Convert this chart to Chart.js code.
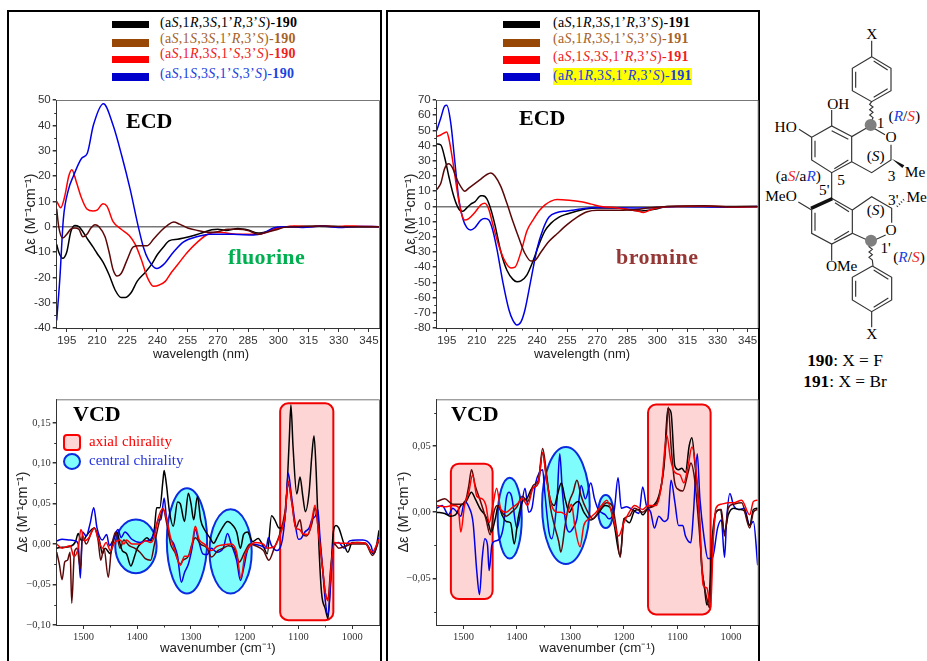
<!DOCTYPE html>
<html>
<head>
<meta charset="utf-8">
<title>ECD and VCD spectra of 190 and 191</title>
<script src="https://cdn.jsdelivr.net/npm/chart.js@4"></script>
<style>
html, body { margin: 0; padding: 0; background: #fff; }
#page { position: relative; width: 927px; height: 661px; overflow: hidden; font-family: "Liberation Serif", serif; }
#page canvas { position: absolute; }
.frame { position: absolute; top: 10px; height: 670px; border: 2px solid #000; box-sizing: border-box; }
.t { position: absolute; white-space: nowrap; line-height: 1; transform: translateY(-50%); }
.leg { font-size: 14px; letter-spacing: 0.3px; }
.big { font-size: 22px; font-weight: bold; }
.xt { position: absolute; white-space: nowrap; line-height: 1; transform: translate(-50%, -50%); font: 13px "Liberation Sans", sans-serif; color: #222; }
.sw { position: absolute; }
</style>
</head>
<body>
<div id="page">
  <div class="frame" style="left:7px;width:375px"></div>
  <div class="frame" style="left:386px;width:374px"></div>

  <div class="sw" style="left:112px;top:21px;width:37px;height:7px;background:#000"></div>
  <div class="sw" style="left:112px;top:39px;width:37px;height:8px;background:#974706"></div>
  <div class="sw" style="left:112px;top:56px;width:37px;height:7px;background:#f00"></div>
  <div class="sw" style="left:112px;top:73px;width:37px;height:8px;background:#0000cc"></div>
  <div class="t leg" style="left:160px;top:23px;color:#000">(a<i>S</i>,1<i>R</i>,3<i>S</i>,1’<i>R</i>,3’<i>S</i>)-<b>190</b></div>
  <div class="t leg" style="left:160px;top:39px;color:#a5622a">(a<i>S</i>,1<i>S</i>,3<i>S</i>,1’<i>R</i>,3’<i>S</i>)-<b>190</b></div>
  <div class="t leg" style="left:160px;top:54px;color:#f02020">(a<i>S</i>,1<i>R</i>,3<i>S</i>,1’<i>S</i>,3’<i>S</i>)-<b>190</b></div>
  <div class="t leg" style="left:160px;top:74px;color:#2040e0">(a<i>S</i>,1<i>S</i>,3<i>S</i>,1’<i>S</i>,3’<i>S</i>)-<b>190</b></div>

  <div class="sw" style="left:503px;top:21px;width:37px;height:7px;background:#000"></div>
  <div class="sw" style="left:503px;top:39px;width:37px;height:8px;background:#974706"></div>
  <div class="sw" style="left:503px;top:56px;width:37px;height:8px;background:#f00"></div>
  <div class="sw" style="left:503px;top:73px;width:37px;height:8px;background:#0000cc"></div>
  <div class="sw" style="left:553px;top:68px;width:139px;height:17px;background:#ffff00"></div>
  <div class="t leg" style="left:553px;top:23px;color:#000">(a<i>S</i>,1<i>R</i>,3<i>S</i>,1’<i>R</i>,3’<i>S</i>)-<b>191</b></div>
  <div class="t leg" style="left:553px;top:39px;color:#a5622a">(a<i>S</i>,1<i>R</i>,3<i>S</i>,1’<i>S</i>,3’<i>S</i>)-<b>191</b></div>
  <div class="t leg" style="left:553px;top:57px;color:#f02020">(a<i>S</i>,1<i>S</i>,3<i>S</i>,1’<i>R</i>,3’<i>S</i>)-<b>191</b></div>
  <div class="t leg" style="left:553px;top:76px;color:#2040e0">(a<i>R</i>,1<i>R</i>,3<i>S</i>,1’<i>R</i>,3’<i>S</i>)-<b>191</b></div>

  <canvas id="ecdF" style="left:22px;top:90px"></canvas>
  <canvas id="ecdBr" style="left:402px;top:90px"></canvas>
  <canvas id="vcdF" style="left:14px;top:389px"></canvas>
  <canvas id="vcdBr" style="left:395px;top:389px"></canvas>

  <div class="xt" style="left:201px;top:353px">wavelength (nm)</div>
  <div class="xt" style="left:582px;top:353px">wavelength (nm)</div>

  <div class="t big" style="left:126px;top:121px">ECD</div>
  <div class="t big" style="left:519px;top:118px">ECD</div>
  <div class="t big" style="left:228px;top:257px;color:#00b050;letter-spacing:0.3px">fluorine</div>
  <div class="t big" style="left:616px;top:257px;color:#953735;letter-spacing:0.5px">bromine</div>
  <div class="t big" style="left:73px;top:414px">VCD</div>
  <div class="t big" style="left:451px;top:414px">VCD</div>

  <div class="sw" style="left:63px;top:434px;width:18px;height:17px;box-sizing:border-box;background:#fdd5d5;border:2px solid #f00;border-radius:4px"></div>
  <div class="sw" style="left:63px;top:453px;width:18px;height:17px;box-sizing:border-box;background:#7ffcfc;border:2px solid #0a2be0;border-radius:50%"></div>
  <div class="t" style="left:89px;top:441px;font-size:15px;color:#f00">axial chirality</div>
  <div class="t" style="left:89px;top:460px;font-size:15px;color:#2030e0">central chirality</div>

  <svg style="position:absolute;left:765px;top:20px" width="162" height="380" viewBox="0 0 486 1140" font-family="Liberation Serif" font-size="46" text-anchor="middle">
    <g fill="none" stroke="#333" stroke-width="3.5">
      <path d="M320 62V110L378 145V212L320 245L262 212V145L320 110"/>
      <path d="M272 155V203M326 123L368 150M368 206L326 232"/>
      <path d="M320 245l-6 8 10 8-10 8 10 8-10 8 10 8-8 18"/>
      <path d="M315 318L360 344M378 374V420L320 458L260 425V350L315 318"/>
      <path d="M262 350L200 318L140 352V420L200 458L260 425"/>
      <path d="M200 332L250 358M150 362V412M208 446L250 420"/>
      <path d="M200 318V270M140 352L102 328M200 458V535"/>
      <path d="M200 535L262 570V640L200 672L140 640V570"/>
      <path d="M210 548L252 575M252 634L208 660M150 578V632"/>
      <path d="M140 570L100 546M200 672V722"/>
      <path d="M262 570L320 530L380 565V608M362 645L318 665L262 640"/>
      <path d="M318 672l-6 8 10 8-10 8 10 8-10 8 10 8 2 18"/>
      <path d="M322 738L380 772V840L320 875L262 840V772L322 738"/>
      <path d="M272 782V830M326 750L370 778M370 834L326 862"/>
      <path d="M320 875V922"/>
      <path d="M396 560L420 535" stroke-dasharray="3 6" stroke-width="6"/>
    </g>
    <path d="M380 416L418 436L412 444Z" fill="#111"/>
    <path d="M200 531L204 541L140 570L136 560Z" fill="#111"/>
    <circle cx="317" cy="315" r="18" fill="#7f7f7f"/>
    <circle cx="318" cy="662" r="18" fill="#7f7f7f"/>
    <text x="320" y="58">X</text>
    <text x="220" y="266">OH</text>
    <text x="62" y="336">HO</text>
    <text x="347" y="323">1</text>
    <text x="378" y="367">O</text>
    <text x="418" y="304">(<tspan fill="#2040e0" font-style="italic">R</tspan>/<tspan fill="#f02020" font-style="italic">S</tspan>)</text>
    <text x="332" y="424">(<tspan font-style="italic">S</tspan>)</text>
    <text x="450" y="472">Me</text>
    <text x="380" y="482">3</text>
    <text x="228" y="494">5</text>
    <text x="100" y="482">(a<tspan fill="#f02020" font-style="italic">S</tspan>/a<tspan fill="#2040e0" font-style="italic">R</tspan>)</text>
    <text x="178" y="526">5'</text>
    <text x="48" y="544">MeO</text>
    <text x="385" y="554">3'</text>
    <text x="455" y="545">Me</text>
    <text x="332" y="584">(<tspan font-style="italic">S</tspan>)</text>
    <text x="378" y="644">O</text>
    <text x="362" y="699">1'</text>
    <text x="432" y="726">(<tspan fill="#2040e0" font-style="italic">R</tspan>/<tspan fill="#f02020" font-style="italic">S</tspan>)</text>
    <text x="230" y="752">OMe</text>
    <text x="320" y="958">X</text>
    <text x="240" y="1038" font-size="52"><tspan font-weight="bold">190</tspan>: X = F</text>
    <text x="240" y="1102" font-size="52"><tspan font-weight="bold">191</tspan>: X = Br</text>
  </svg>
</div>

<script>
// ECD, X = F : [wavelength, delta epsilon]
const ecdFBlack = [[190,-7],[191,-10],[193,-12.5],[195,-10],[197,-2],[199,0.5],[201,0],[203,-2],[205,-4.5],[208,-8],[210,-10.5],[213,-14],[216,-19],[219,-25],[222,-28],[224,-28],[227,-26],[230,-21.5],[234,-18],[237,-15],[240,-11],[243,-8],[246,-5.5],[250,-5],[253,-4.5],[258,-3.5],[262,-2.5],[267,-1.2],[270,-1],[274,-1.5],[280,-0.7],[285,-1.3],[290,-2.5],[295,-1.8],[300,-0.5],[305,0],[320,0.2],[335,0],[350,0]];
const ecdFBlue = [[190,-37],[191.6,-20],[193.3,3],[195.8,14.5],[198.3,20],[202.4,27],[205.2,29],[208.2,40],[213.2,48.5],[218,40],[222.3,28],[226.4,15],[230.5,0],[233,-8],[235.5,-13],[239.7,-16.5],[243,-15],[248,-10],[253,-6],[259.5,-4],[266,-3],[277.7,-3],[287.7,-3.3],[292.6,-2.5],[297.6,-0.5],[302.6,0],[312,-0.3],[322,0.3],[330,-0.3],[340,0.1],[350,0]];
const ecdFRed = [[190,10],[192,7.5],[194,12],[196,20],[197.5,22.5],[200,17],[202,12],[205,7],[208,6.2],[210,6.5],[213,9],[215,8],[218,2],[222,-1],[226,-3.5],[229,-7],[232,-13],[235,-20],[238,-23.5],[241,-23],[244,-21.5],[247,-18],[250,-15],[255,-10],[260,-6],[265,-3],[270,-2.2],[280,-3],[290,-3],[295,-2],[300,-0.5],[305,0.1],[308,0.3],[315,0],[322,0.4],[328,-0.1],[333,0.3],[340,0.2],[350,0]];
const ecdFDark = [[190,7],[191,0],[193,-4.5],[195,-3],[197,-1],[199,-0.5],[201,-1],[203,-4],[205,-3],[207,-0.5],[209,0.8],[211,0],[214,-4],[216,-10],[218,-17],[220,-19.5],[222,-18.5],[225,-13],[228,-8],[231,-7.5],[235,-7.5],[238,-5],[242,-1.5],[245,0.5],[248,1.8],[251,1],[255,-0.5],[260,-1.5],[265,-2.2],[270,-2],[275,-1],[280,-1],[285,-1.5],[290,-3],[295,-2],[300,-1],[303,-0.2],[310,0],[322,0.3],[332,0],[350,0]];

// ECD, X = Br
const ecdBrBlack = [[190,41],[192,40.5],[194,32],[196,20],[198,9],[200,1],[202,-3],[203,-3.2],[205,-1],[207,1.5],[209,3],[212,7],[213,7],[215,5],[217,-2],[219,-12],[222,-30],[225,-42],[228,-48],[230,-49.5],[232,-49],[235,-45],[238,-36],[241,-25],[244,-16],[247,-11],[251,-7],[255,-5],[260,-3],[265,-1.5],[270,-1],[280,-1],[285,-2],[292,-3],[300,-1.5],[305,0],[320,0],[350,0]];
const ecdBrBlue = [[190,50],[192,58],[194,66],[195,66.5],[197,55],[199,30],[201,5],[203,-8],[205,-14],[207,-15.5],[209,-14],[212,-9],[214,-8],[216,-9],[218,-16],[220,-28],[223,-50],[226,-68],[228,-75],[230,-78],[232,-76],[234,-68],[237,-48],[240,-28],[243,-15],[246,-7],[250,-4],[255,-3],[260,-2],[270,-0.8],[290,-1],[300,-0.8],[310,0],[335,-0.5],[350,0]];
const ecdBrRed = [[190,46],[192,47],[195,49],[196,45],[198,30],[200,12],[202,-3],[204,-9],[206,-8],[209,-4],[212,1],[214,2],[216,-2],[218,-12],[221,-26],[224,-36],[227,-40.5],[229,-40],[232,-30],[235,-16],[238,-9],[241,-3],[244,1],[247,3.5],[250,4.5],[256,4],[262,3],[267,1.5],[272,0],[280,-1],[290,-3],[293,-4],[297,-2],[302,-0.5],[310,0],[323,0.3],[340,-0.4],[350,-0.2]];
const ecdBrDark = [[190,11],[192,15],[194,25],[196,28],[198,25],[200,18],[202,13],[204,10],[206,12],[209,15],[212,18],[215,21],[217,22],[219,20],[222,13],[225,2],[228,-10],[231,-21],[234,-31],[237,-36],[239,-35.5],[242,-30],[246,-23],[250,-18],[255,-12],[260,-7],[265,-3.5],[270,-2.5],[280,-2.5],[290,-2],[295,-1],[305,0],[323,0.4],[335,-0.2],[350,0]];

// VCD, X = F : [wavenumber, delta epsilon]
const vcdFBlack = [[1550,-0.005],[1540,-0.004],[1525,-0.003],[1515,0.003],[1510,0.013],[1505,0.005],[1500,0.005],[1495,0.01],[1480,0.02],[1470,0.003],[1465,-0.012],[1460,-0.005],[1450,-0.012],[1445,0.002],[1438,0.015],[1432,0],[1428,-0.008],[1420,-0.012],[1412,-0.027],[1405,-0.015],[1400,-0.005],[1390,0.003],[1382,0.008],[1375,0.004],[1368,0.02],[1364,0.045],[1358,0.045],[1352,0.08],[1350,0.091],[1346,0.075],[1340,0.04],[1333,0.022],[1325,0.052],[1320,0.05],[1312,0.028],[1305,0.063],[1300,0.05],[1295,0.03],[1288,0.059],[1282,0.03],[1275,0.018],[1265,0.008],[1258,0.001],[1250,0.01],[1240,0.022],[1232,0.028],[1222,0.023],[1215,0.015],[1208,-0.005],[1202,0.012],[1195,0.015],[1185,0.003],[1175,0.007],[1165,-0.003],[1158,-0.012],[1150,0.035],[1144,0.03],[1136,0.02],[1128,0.02],[1122,0.06],[1117,0.13],[1114,0.172],[1110,0.12],[1103,0.062],[1097,0.083],[1092,0.06],[1087,0.04],[1080,0.065],[1075,0.11],[1071,0.134],[1067,0.09],[1062,0],[1057,-0.06],[1050,-0.08],[1045,-0.092],[1040,-0.04],[1035,0.015],[1030,0.023],[1025,0.02],[1015,0],[1008,-0.01],[1000,0.002],[990,0.002],[975,0.001],[960,-0.012],[955,-0.003],[950,0.017]];
const vcdFBlue = [[1550,0.004],[1540,0.006],[1525,0.005],[1515,0.004],[1510,0],[1506,-0.042],[1502,0.015],[1495,0.01],[1488,0.025],[1481,0.045],[1475,0.02],[1465,0.005],[1457,0.012],[1452,-0.002],[1445,0.005],[1436,0.018],[1430,0.008],[1423,0.015],[1410,0.006],[1395,0.002],[1385,0.004],[1375,0.006],[1368,0.015],[1360,0.03],[1356,0.03],[1350,0.057],[1346,0.035],[1340,0.01],[1332,0],[1325,-0.015],[1318,-0.047],[1312,-0.035],[1305,-0.025],[1298,-0.005],[1292,0.018],[1286,0.005],[1278,-0.012],[1270,-0.013],[1262,-0.005],[1252,-0.01],[1240,-0.005],[1232,0.013],[1225,0],[1215,-0.02],[1208,-0.045],[1202,-0.03],[1195,-0.008],[1185,0],[1170,-0.002],[1160,-0.005],[1156,0.008],[1150,-0.002],[1140,-0.008],[1130,0.005],[1124,0.04],[1119,0.088],[1113,0.06],[1107,0.03],[1100,0.006],[1095,0.007],[1088,0.015],[1080,0.02],[1075,0.03],[1068,0.035],[1064,0.043],[1060,0.01],[1055,-0.03],[1050,-0.07],[1045,-0.088],[1040,-0.05],[1035,0],[1025,0.002],[1015,-0.005],[1005,0.004],[990,0.005],[980,0.005],[965,-0.002],[960,-0.012],[950,0.008]];
const vcdFRed = [[1550,0],[1540,-0.005],[1525,-0.002],[1518,-0.015],[1510,-0.005],[1505,0.018],[1498,0.004],[1490,0.008],[1480,0.02],[1472,0.005],[1465,-0.005],[1458,0.002],[1450,-0.008],[1442,0.002],[1432,0.005],[1425,0],[1420,0.005],[1410,0],[1395,0],[1385,0.004],[1375,0.002],[1368,0.01],[1362,0.03],[1352,0.044],[1345,0.03],[1338,0.008],[1330,-0.008],[1320,-0.026],[1312,-0.015],[1305,-0.015],[1298,0],[1292,0.022],[1285,0.006],[1275,0],[1262,-0.008],[1252,-0.003],[1240,-0.001],[1225,0],[1215,-0.01],[1207,-0.042],[1200,-0.015],[1190,-0.002],[1180,0.002],[1165,0],[1158,-0.005],[1145,-0.003],[1135,0.01],[1125,0.035],[1119,0.078],[1112,0.05],[1105,0.02],[1098,0.018],[1092,0.013],[1082,0.012],[1075,0.03],[1069,0.048],[1062,0.01],[1055,-0.03],[1050,-0.06],[1045,-0.07],[1038,-0.02],[1033,0.002],[1020,0.001],[1005,0.001],[990,0.002],[975,0.001],[963,-0.01],[950,0.006]];
const vcdFDark = [[1550,-0.01],[1545,-0.025],[1540,-0.044],[1535,-0.022],[1530,-0.02],[1525,-0.01],[1522,-0.073],[1517,-0.01],[1512,-0.005],[1506,-0.03],[1502,0.01],[1495,0],[1485,0.015],[1480,0.02],[1473,0.005],[1468,-0.02],[1462,-0.005],[1454,-0.041],[1448,-0.005],[1440,0.015],[1432,-0.005],[1425,0.005],[1415,-0.002],[1405,-0.005],[1395,-0.01],[1385,-0.018],[1375,-0.02],[1368,0],[1360,0.025],[1352,0.043],[1345,0.025],[1338,0],[1330,-0.01],[1320,-0.025],[1315,-0.02],[1305,-0.015],[1298,0],[1292,0.008],[1282,0],[1270,-0.005],[1262,-0.016],[1250,-0.008],[1240,-0.005],[1230,-0.002],[1220,-0.005],[1210,-0.022],[1200,-0.01],[1190,0],[1180,-0.002],[1165,-0.008],[1155,-0.02],[1145,-0.005],[1135,0.012],[1125,0.04],[1119,0.075],[1112,0.05],[1105,0.02],[1097,0.03],[1092,0.012],[1085,0.01],[1075,0.025],[1069,0.045],[1062,0.012],[1055,-0.03],[1050,-0.06],[1045,-0.068],[1040,-0.03],[1033,0],[1025,-0.005],[1010,-0.002],[1000,0],[985,0],[975,0],[962,-0.014],[950,0.005]];

// VCD, X = Br
const vcdBrBlack = [[1550,0],[1535,-0.001],[1525,-0.003],[1515,-0.002],[1505,0.005],[1495,0.008],[1485,0.015],[1478,0.01],[1468,0.002],[1460,-0.002],[1455,-0.006],[1448,-0.015],[1440,-0.004],[1435,0.005],[1428,-0.002],[1420,-0.007],[1412,-0.008],[1405,-0.024],[1398,-0.005],[1390,0.008],[1382,0.01],[1372,0.018],[1360,0.022],[1352,0.045],[1346,0.03],[1338,0.01],[1330,0.005],[1325,0.012],[1317,0.022],[1310,0.01],[1302,0],[1295,0.005],[1285,0.008],[1275,0],[1262,-0.006],[1250,-0.002],[1235,0.005],[1225,0.003],[1218,-0.01],[1207,-0.033],[1200,-0.005],[1190,-0.008],[1180,0.001],[1172,0.002],[1165,-0.002],[1155,0.003],[1145,0.005],[1135,0.012],[1125,0.035],[1118,0.078],[1112,0.075],[1105,0.035],[1098,0.032],[1092,0.033],[1085,0.03],[1078,0.05],[1073,0.056],[1067,0.035],[1060,0.005],[1055,-0.04],[1050,-0.055],[1045,-0.07],[1040,-0.06],[1035,-0.02],[1028,0],[1020,0.002],[1012,-0.015],[1005,-0.002],[995,0.003],[985,0.002],[975,0.001],[965,-0.01],[958,0.002],[950,0.003]];
const vcdBrBlue = [[1550,0.003],[1540,0.005],[1528,-0.002],[1520,0.003],[1512,0],[1505,-0.003],[1498,0.008],[1490,0.004],[1482,-0.008],[1475,-0.045],[1470,-0.062],[1465,-0.035],[1460,-0.02],[1455,-0.025],[1452,-0.044],[1447,-0.025],[1442,-0.022],[1432,-0.02],[1425,-0.01],[1420,0.01],[1415,0.015],[1410,0.012],[1400,-0.012],[1393,0],[1385,0.018],[1378,0],[1372,0.003],[1365,0.022],[1352,0.032],[1348,0.015],[1340,-0.015],[1335,-0.02],[1325,0.01],[1320,0.044],[1315,0.015],[1308,-0.01],[1302,-0.015],[1295,-0.012],[1288,-0.005],[1280,0.02],[1272,0.01],[1262,0.022],[1255,0.01],[1248,0.002],[1235,-0.002],[1228,-0.005],[1218,0.002],[1211,0.026],[1205,0.003],[1195,0.004],[1185,0.002],[1172,-0.001],[1165,0.019],[1158,0.005],[1150,0],[1143,-0.012],[1135,-0.003],[1125,-0.007],[1118,-0.005],[1112,0.024],[1105,0.008],[1098,-0.01],[1090,-0.01],[1085,-0.018],[1075,-0.023],[1070,0],[1063,0.044],[1058,0.01],[1050,-0.02],[1043,-0.035],[1035,-0.035],[1025,-0.012],[1018,-0.006],[1012,-0.034],[1008,-0.005],[1002,0.014],[995,0.005],[985,0.002],[975,0.003],[965,-0.01],[958,-0.007],[950,-0.04]];
const vcdBrRed = [[1550,0.005],[1535,0.004],[1520,0.005],[1510,0.004],[1505,-0.015],[1498,0.005],[1490,0.015],[1483,0.028],[1475,0.012],[1465,0.01],[1458,0.005],[1452,-0.008],[1445,0.005],[1438,0.018],[1430,0.002],[1420,0],[1410,0.003],[1400,0.006],[1390,0.01],[1380,0.005],[1370,0.018],[1360,0.022],[1352,0.045],[1345,0.025],[1335,0.005],[1325,0],[1318,0],[1308,-0.002],[1298,0.006],[1292,-0.01],[1282,-0.026],[1275,-0.01],[1265,-0.005],[1252,0],[1240,0.006],[1232,0.009],[1220,-0.005],[1210,-0.018],[1200,-0.008],[1190,0],[1180,0.005],[1165,0.002],[1155,0.005],[1140,0.005],[1130,0.02],[1120,0.058],[1113,0.04],[1105,0.03],[1095,0.028],[1088,0.022],[1080,0.035],[1073,0.049],[1065,0.03],[1058,-0.01],[1052,-0.055],[1045,-0.057],[1038,-0.072],[1033,-0.02],[1028,0.003],[1018,0.006],[1005,0.007],[995,0.007],[980,0.009],[965,-0.002],[958,0.008],[950,0.009]];
const vcdBrDark = [[1550,0.008],[1535,0.01],[1520,0.006],[1505,0.006],[1495,0.01],[1490,0.02],[1485,0.032],[1478,0.02],[1468,0.008],[1458,-0.005],[1450,-0.017],[1443,0],[1437,0.005],[1430,0.001],[1420,-0.003],[1410,0],[1400,0.004],[1390,0.012],[1380,0.008],[1370,0.02],[1360,0.024],[1352,0.048],[1345,0.03],[1338,0.005],[1330,-0.01],[1322,-0.022],[1318,-0.03],[1310,-0.01],[1302,0.008],[1295,0.015],[1288,0.024],[1280,0.012],[1270,0.002],[1258,-0.005],[1245,0.002],[1232,0.007],[1222,0.005],[1215,-0.01],[1207,-0.034],[1200,-0.005],[1190,-0.003],[1180,0.003],[1165,0],[1155,0.003],[1140,0.006],[1130,0.02],[1122,0.05],[1117,0.079],[1112,0.05],[1105,0.022],[1098,0.017],[1090,0.016],[1080,0.03],[1075,0.037],[1068,0.025],[1060,-0.01],[1052,-0.05],[1045,-0.065],[1040,-0.072],[1035,-0.03],[1028,0],[1018,0.002],[1012,-0.018],[1005,0.003],[995,0.006],[980,0.007],[965,-0.012],[958,0],[950,0.002]];

// tick values
const ecdXTicks = [195,210,225,240,255,270,285,300,315,330,345];
const ecdXMinor = [202.5,217.5,232.5,247.5,262.5,277.5,292.5,307.5,322.5,337.5];
const ecdFYTicks = [-40,-30,-20,-10,0,10,20,30,40,50];
const ecdFYMinor = [-35,-25,-15,-5,5,15,25,35,45];
const ecdBrYTicks = [-80,-70,-60,-50,-40,-30,-20,-10,0,10,20,30,40,50,60,70];
const ecdBrYMinor = [-75,-65,-55,-45,-35,-25,-15,-5,5,15,25,35,45,55,65];
const vcdXTicks = [1500,1400,1300,1200,1100,1000];
const vcdXMinor = [1450,1350,1250,1150,1050];
const vcdFYTicks = [-0.10,-0.05,0,0.05,0.10,0.15];
const vcdFYLabels = ['−0,10','−0,05','0,00','0,05','0,10','0,15'];
const vcdFYMinor = [-0.075,-0.025,0.025,0.075,0.125];
const vcdBrYTicks = [-0.05,0,0.05];
const vcdBrYLabels = ['−0,05','0,00','0,05'];
const vcdBrYMinor = [-0.075,-0.025,0.025,0.075];

// highlighted regions in data units: kind, wavenumber from/to, value from/to
const vcdFRegions = [['ellipse',1441,1364,0.0305,-0.036],['ellipse',1345,1270,0.069,-0.061],['ellipse',1265.5,1187,0.043,-0.061],['rect',1134,1035,0.174,-0.094]];
const vcdBrRegions = [['rect',1523.5,1445.5,0.0365,-0.0655],['ellipse',1436,1391,0.026,-0.035],['ellipse',1353,1264,0.049,-0.039],['ellipse',1248,1220,0.013,-0.012],['rect',1155,1038,0.081,-0.077]];

const BLACK = '#000', DARK = '#5c0808', RED = '#ff0000', BLUE = '#0000e6';

// shaded ellipses/boxes under the curves, plot border and small ticks on top
const panelExtras = {
    id: 'panelExtras',
    beforeDatasetsDraw(chart, args, opts) {
        const ctx = chart.ctx, sx = chart.scales.x, sy = chart.scales.y;
        (opts.regions || []).forEach(r => {
            const x0 = sx.getPixelForValue(r[1]), x1 = sx.getPixelForValue(r[2]);
            const y0 = sy.getPixelForValue(r[3]), y1 = sy.getPixelForValue(r[4]);
            ctx.save();
            ctx.beginPath();
            if (r[0] === 'ellipse') {
                ctx.ellipse((x0 + x1) / 2, (y0 + y1) / 2, (x1 - x0) / 2, (y1 - y0) / 2, 0, 0, Math.PI * 2);
                ctx.fillStyle = '#7ffcfc';
                ctx.strokeStyle = '#0a2be0';
            } else {
                ctx.roundRect(x0, y0, x1 - x0, y1 - y0, 8);
                ctx.fillStyle = '#fdd5d5';
                ctx.strokeStyle = '#f00000';
            }
            ctx.lineWidth = 2;
            ctx.fill();
            ctx.stroke();
            ctx.restore();
        });
    },
    afterDraw(chart, args, opts) {
        const ctx = chart.ctx, a = chart.chartArea, sx = chart.scales.x, sy = chart.scales.y;
        ctx.save();
        ctx.strokeStyle = '#777';
        ctx.lineWidth = 1;
        ctx.beginPath();
        ctx.moveTo(a.left, a.top + 0.5);
        ctx.lineTo(a.right + 0.5, a.top + 0.5);
        ctx.lineTo(a.right + 0.5, a.bottom);
        ctx.stroke();
        ctx.strokeStyle = '#333';
        ctx.beginPath();
        opts.xMinor.forEach(v => {
            const p = Math.round(sx.getPixelForValue(v)) + 0.5;
            ctx.moveTo(p, a.bottom);
            ctx.lineTo(p, a.bottom + 2.5);
        });
        opts.yMinor.forEach(v => {
            const p = Math.round(sy.getPixelForValue(v)) + 0.5;
            ctx.moveTo(a.left, p);
            ctx.lineTo(a.left - 2.5, p);
        });
        ctx.stroke();
        ctx.restore();
    }
};

function makePanel(id, o) {
    const canvas = document.getElementById(id);
    canvas.width = o.width;
    canvas.height = o.height;
    canvas.style.width = o.width + 'px';
    canvas.style.height = o.height + 'px';
    const tickFont = { family: o.tickFamily, size: o.tickSize };
    return new Chart(canvas, {
        type: 'line',
        data: {
            datasets: o.series.map(s => ({
                label: s.label,
                data: s.points.map(p => ({ x: p[0], y: p[1] })),
                borderColor: s.color,
                borderWidth: o.lineWidth,
                pointRadius: 0,
                cubicInterpolationMode: 'monotone'
            }))
        },
        options: {
            responsive: false,
            animation: false,
            layout: { padding: { top: o.padTop, right: o.padRight, left: 0, bottom: 0 } },
            plugins: {
                legend: { display: false },
                tooltip: { enabled: false },
                panelExtras: { regions: o.regions, xMinor: o.xMinor, yMinor: o.yMinor }
            },
            scales: {
                x: {
                    type: 'linear',
                    min: o.xMin,
                    max: o.xMax,
                    reverse: o.reverse,
                    afterBuildTicks: s => { s.ticks = o.xTicks.map(value => ({ value })); },
                    afterFit: s => { s.height = o.bottomH; s.paddingLeft = s.paddingRight = s.paddingTop = s.paddingBottom = 0; },
                    border: { color: '#333' },
                    grid: { drawOnChartArea: false, tickLength: 4, tickColor: '#333' },
                    ticks: { font: tickFont, color: '#333', padding: 2, maxRotation: 0, autoSkip: false, callback: v => String(v) },
                    title: { display: !!o.xTitle, text: o.xTitle, font: { family: 'Liberation Sans', size: 13.3 }, color: '#222', padding: 0 }
                },
                y: {
                    min: o.yMin,
                    max: o.yMax,
                    afterBuildTicks: s => { s.ticks = o.yTicks.map(value => ({ value })); },
                    afterFit: s => { s.width = o.leftW; s.paddingLeft = s.paddingRight = s.paddingTop = s.paddingBottom = 0; },
                    border: { color: '#333' },
                    grid: {
                        color: c => (o.zeroLine && c.tick && c.tick.value === 0 ? '#777' : 'transparent'),
                        lineWidth: 1.5,
                        tickLength: 4,
                        tickColor: '#333'
                    },
                    ticks: {
                        font: tickFont,
                        color: '#333',
                        padding: 2,
                        autoSkip: false,
                        callback: (v, i) => (o.yLabels ? o.yLabels[i] : String(v))
                    },
                    title: { display: true, text: 'Δε (M⁻¹cm⁻¹)', font: { family: 'Liberation Sans', size: 14.5 }, color: '#222', padding: 0 }
                }
            }
        },
        plugins: [panelExtras]
    });
}

makePanel('ecdF', {
    width: 363, height: 271, padTop: 10, padRight: 6, leftW: 34.7, bottomH: 33,
    xMin: 190, xMax: 350, yMin: -40, yMax: 50, reverse: false,
    xTicks: ecdXTicks, xMinor: ecdXMinor, yTicks: ecdFYTicks, yMinor: ecdFYMinor,
    tickFamily: 'Liberation Sans', tickSize: 11.5, lineWidth: 1.5, zeroLine: true,
    series: [
        { label: '(aS,1S,3S,1’R,3’S)-190', points: ecdFDark, color: DARK },
        { label: '(aS,1S,3S,1’S,3’S)-190', points: ecdFBlue, color: BLUE },
        { label: '(aS,1R,3S,1’S,3’S)-190', points: ecdFRed, color: RED },
        { label: '(aS,1R,3S,1’R,3’S)-190', points: ecdFBlack, color: BLACK }
    ]
});

makePanel('ecdBr', {
    width: 362, height: 271, padTop: 10, padRight: 6.3, leftW: 34.7, bottomH: 33,
    xMin: 190, xMax: 350, yMin: -80, yMax: 70, reverse: false,
    xTicks: ecdXTicks, xMinor: ecdXMinor, yTicks: ecdBrYTicks, yMinor: ecdBrYMinor,
    tickFamily: 'Liberation Sans', tickSize: 11.5, lineWidth: 1.5, zeroLine: true,
    series: [
        { label: '(aS,1R,3S,1’S,3’S)-191', points: ecdBrDark, color: DARK },
        { label: '(aS,1S,3S,1’R,3’S)-191', points: ecdBrRed, color: RED },
        { label: '(aR,1R,3S,1’R,3’S)-191', points: ecdBrBlue, color: BLUE },
        { label: '(aS,1R,3S,1’R,3’S)-191', points: ecdBrBlack, color: BLACK }
    ]
});

makePanel('vcdF', {
    width: 371, height: 267, padTop: 10.3, padRight: 6, leftW: 42.7, bottomH: 31,
    xMin: 950, xMax: 1550, yMin: -0.10, yMax: 0.179, reverse: true,
    xTicks: vcdXTicks, xMinor: vcdXMinor, yTicks: vcdFYTicks, yLabels: vcdFYLabels, yMinor: vcdFYMinor,
    xTitle: 'wavenumber (cm⁻¹)', tickFamily: 'Liberation Serif', tickSize: 10.5, lineWidth: 1.5, zeroLine: false,
    regions: vcdFRegions,
    series: [
        { label: '(aS,1R,3S,1’S,3’S)-190', points: vcdFRed, color: RED },
        { label: '(aS,1S,3S,1’R,3’S)-190', points: vcdFDark, color: DARK },
        { label: '(aS,1S,3S,1’S,3’S)-190', points: vcdFBlue, color: BLUE },
        { label: '(aS,1R,3S,1’R,3’S)-190', points: vcdFBlack, color: BLACK }
    ]
});

makePanel('vcdBr', {
    width: 369, height: 267, padTop: 10.3, padRight: 6.3, leftW: 41.7, bottomH: 31,
    xMin: 950, xMax: 1550, yMin: -0.085, yMax: 0.085, reverse: true,
    xTicks: vcdXTicks, xMinor: vcdXMinor, yTicks: vcdBrYTicks, yLabels: vcdBrYLabels, yMinor: vcdBrYMinor,
    xTitle: 'wavenumber (cm⁻¹)', tickFamily: 'Liberation Serif', tickSize: 10.5, lineWidth: 1.5, zeroLine: false,
    regions: vcdBrRegions,
    series: [
        { label: '(aS,1S,3S,1’R,3’S)-191', points: vcdBrRed, color: RED },
        { label: '(aS,1R,3S,1’S,3’S)-191', points: vcdBrDark, color: DARK },
        { label: '(aS,1R,3S,1’R,3’S)-191', points: vcdBrBlack, color: BLACK },
        { label: '(aR,1R,3S,1’R,3’S)-191', points: vcdBrBlue, color: BLUE }
    ]
});
</script>
</body>
</html>
